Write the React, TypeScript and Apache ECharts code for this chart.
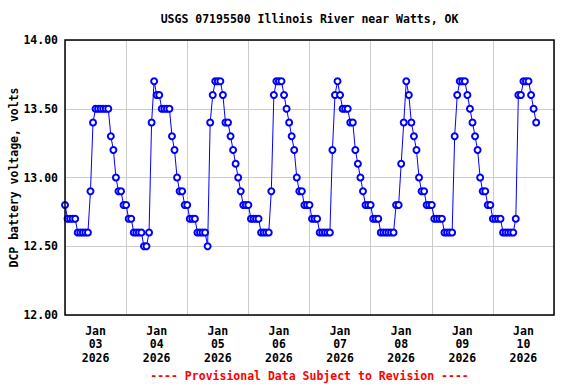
import React, { useEffect, useRef } from "react";
import * as echarts from "echarts";

// ---- data (hourly DCP battery voltage, volts) ----
const TITLE = "USGS 07195500 Illinois River near Watts, OK";
const Y_NAME = "DCP battery voltage, volts";
const FOOTER = "---- Provisional Data Subject to Revision ----";
const dayLabels = ["Jan\n03\n2026", "Jan\n04\n2026", "Jan\n05\n2026", "Jan\n06\n2026", "Jan\n07\n2026", "Jan\n08\n2026", "Jan\n09\n2026", "Jan\n10\n2026"];
const yTicks = [12.0, 12.5, 13.0, 13.5, 14.0];

const day03 = [12.8, 12.7, 12.7, 12.7, 12.7, 12.6, 12.6, 12.6, 12.6, 12.6, 12.9, 13.4, 13.5, 13.5, 13.5, 13.5, 13.5, 13.5, 13.3, 13.2, 13.0, 12.9, 12.9, 12.8];
const day04 = [12.8, 12.7, 12.7, 12.6, 12.6, 12.6, 12.6, 12.5, 12.5, 12.6, 13.4, 13.7, 13.6, 13.6, 13.5, 13.5, 13.5, 13.5, 13.3, 13.2, 13.0, 12.9, 12.9, 12.8];
const day05 = [12.8, 12.7, 12.7, 12.7, 12.6, 12.6, 12.6, 12.6, 12.5, 13.4, 13.6, 13.7, 13.7, 13.7, 13.6, 13.4, 13.4, 13.3, 13.2, 13.1, 13.0, 12.9, 12.8, 12.8];
const day06 = [12.8, 12.7, 12.7, 12.7, 12.7, 12.6, 12.6, 12.6, 12.6, 12.9, 13.6, 13.7, 13.7, 13.7, 13.6, 13.5, 13.4, 13.3, 13.2, 13.0, 12.9, 12.9, 12.8, 12.8];
const day07 = [12.8, 12.7, 12.7, 12.7, 12.6, 12.6, 12.6, 12.6, 12.6, 13.2, 13.6, 13.7, 13.6, 13.5, 13.5, 13.5, 13.4, 13.4, 13.2, 13.1, 13.0, 12.9, 12.8, 12.8];
const day08 = [12.8, 12.7, 12.7, 12.7, 12.6, 12.6, 12.6, 12.6, 12.6, 12.6, 12.8, 12.8, 13.1, 13.4, 13.7, 13.6, 13.4, 13.3, 13.2, 13.0, 12.9, 12.9, 12.8, 12.8];
const day09 = [12.8, 12.7, 12.7, 12.7, 12.7, 12.6, 12.6, 12.6, 12.6, 13.3, 13.6, 13.7, 13.7, 13.7, 13.6, 13.5, 13.4, 13.3, 13.2, 13.0, 12.9, 12.9, 12.8, 12.8];
const day10 = [12.7, 12.7, 12.7, 12.7, 12.6, 12.6, 12.6, 12.6, 12.6, 12.7, 13.6, 13.6, 13.7, 13.7, 13.7, 13.6, 13.5, 13.4];

const START = Date.UTC(2026, 0, 3);
const HOUR = 3600000;
const DAY = 24 * HOUR;

const FONT = "'DejaVu Sans Mono', 'Liberation Mono', monospace";
const GRID = { left: 65, right: 22, top: 40, bottom: 69 };

export default function App() {
  const ref = useRef<HTMLDivElement>(null);
  useEffect(() => {
    if (!ref.current) return;
    const chart = echarts.init(ref.current, null, { renderer: "svg" });
    const voltage = [...day03, ...day04, ...day05, ...day06, ...day07, ...day08, ...day09, ...day10];
    const seriesData = voltage.map((v, i) => [START + i * HOUR, v]);
    const W = 576, H = 384;
    const plotW = W - GRID.left - GRID.right;
    const plotH = H - GRID.top - GRID.bottom;
    const cx = GRID.left + plotW / 2;
    chart.setOption({
      animation: false,
      backgroundColor: "#ffffff",
      grid: { ...GRID, show: false, containLabel: false, outerBoundsMode: "none" },
      xAxis: [
        {
          type: "value",
          min: START,
          max: START + 8 * DAY,
          interval: DAY,
          axisLine: { show: false },
          axisTick: { show: false },
          axisLabel: { show: false },
          splitLine: { show: true, lineStyle: { color: "#cccccc", width: 1 } },
        },
        {
          type: "category",
          position: "bottom",
          data: dayLabels,
          boundaryGap: true,
          axisLine: { show: false },
          axisTick: { show: false },
          splitLine: { show: false },
          axisLabel: {
            color: "#000",
            fontFamily: FONT,
            fontWeight: "bold",
            fontSize: 11.5,
            lineHeight: 13.5,
            margin: 9,
            interval: 0,
          },
        },
      ],
      yAxis: {
        type: "value",
        min: yTicks[0],
        max: yTicks[yTicks.length - 1],
        interval: 0.5,
        axisLine: { show: false },
        axisTick: { show: false },
        splitLine: { show: true, lineStyle: { color: "#cccccc", width: 1 } },
        axisLabel: {
          color: "#000",
          fontFamily: FONT,
          fontWeight: "bold",
          fontSize: 11.5,
          margin: 7,
          formatter: (v: number) => v.toFixed(2),
        },
        name: Y_NAME,
        nameLocation: "middle",
        nameGap: 45,
        nameMoveOverlap: false,
        nameTextStyle: { color: "#000", fontFamily: FONT, fontWeight: "bold", fontSize: 11.5 },
      },
      series: [
        {
          type: "line",
          xAxisIndex: 0,
          data: seriesData,
          symbol: "emptyCircle",
          symbolSize: 6,
          showAllSymbol: true,
          lineStyle: { color: "#0000ff", width: 1 },
          itemStyle: { color: "#0000ff", borderWidth: 1 },
          z: 5,
        },
      ],
      graphic: [
        {
          type: "rect",
          z: 100,
          shape: { x: GRID.left, y: GRID.top, width: plotW, height: plotH },
          style: { fill: "none", stroke: "#000", lineWidth: 1.5 },
          silent: true,
        },
        {
          type: "text",
          x: cx,
          y: 19,
          style: {
            text: TITLE,
            fill: "#000",
            font: `bold 11.5px ${FONT}`,
            textAlign: "center",
            textVerticalAlign: "middle",
          },
        },
        {
          type: "text",
          x: cx,
          y: 376,
          style: {
            text: FOOTER,
            fill: "#ff0000",
            font: `bold 11.5px ${FONT}`,
            textAlign: "center",
            textVerticalAlign: "middle",
          },
        },
      ],
    });
    return () => chart.dispose();
  }, []);
  return <div ref={ref} style={{ width: 576, height: 384, position: "absolute", left: 0, top: 0 }} />;
}
